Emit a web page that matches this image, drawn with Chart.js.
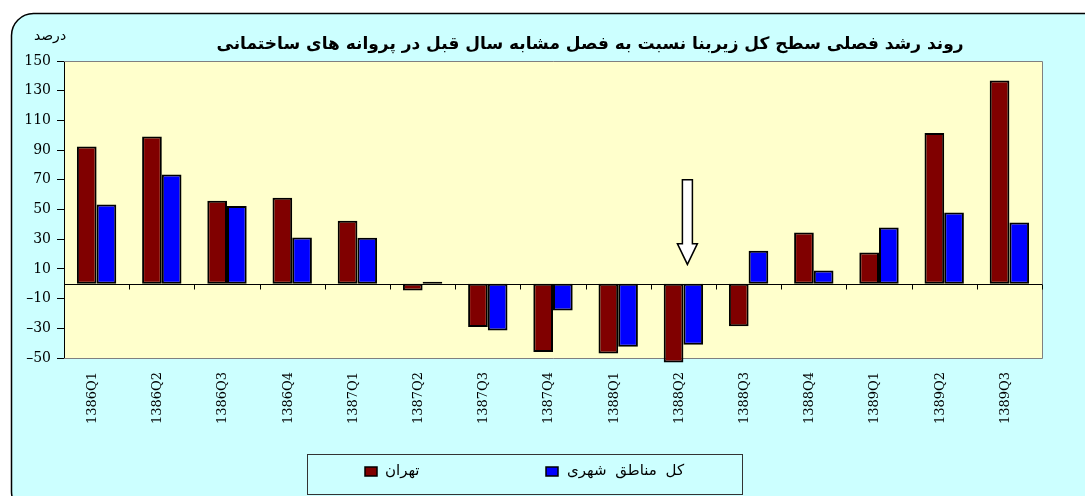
<!DOCTYPE html>
<html><head><meta charset="utf-8">
<script src="https://cdn.jsdelivr.net/npm/chart.js@4"></script>
<style>html,body{margin:0;padding:0;background:#fff;}canvas{display:block;}</style>
</head><body>
<canvas id="c" width="1085" height="496"></canvas>
<script>
// ---- data ----
const categories = ['1386Q1','1386Q2','1386Q3','1386Q4','1387Q1','1387Q2','1387Q3','1387Q4','1388Q1','1388Q2','1388Q3','1388Q4','1389Q1','1389Q2','1389Q3'];
const tehran = [92.5, 99.2, 55.9, 57.9, 42.4, -4.5, -29.2, -46, -47, -53, -28.7, 34.5, 21.1, 101.5, 136.9];
const urbanTotal = [53.4, 73.6, 52.3, 31.2, 31.0, 1.3, -31.4, -18, -42.4, -41, 22.2, 9.0, 37.9, 48.0, 41.3];
const yTicks = [-50, -30, -10, 10, 30, 50, 70, 90, 110, 130, 150];
const seriesNames = ['تهران', 'کل مناطق شهری'];
const chartTitle = 'روند رشد فصلی سطح کل زیربنا نسبت به فصل مشابه سال قبل در پروانه های ساختمانی';
const yUnit = 'درصد';
const arrowCategory = '1388Q2';
const arrowValues = [70, 27, 13]; // top of shaft, base of head, tip

const PERSIAN = '"DejaVu Sans", "Noto Sans", sans-serif';
const SERIF = '"DejaVu Serif", "Liberation Serif", serif';

const decor = {
  id: 'decor',
  beforeDraw(chart) {
    const ctx = chart.ctx, a = chart.chartArea;
    ctx.save();
    ctx.fillStyle = '#ffffff';
    ctx.fillRect(0, 0, chart.width, chart.height);
    const x = 11.5, y = 13.5, w = 1100, h = 500, r = 22;
    ctx.beginPath();
    ctx.moveTo(x + r, y);
    ctx.lineTo(x + w - r, y);
    ctx.arcTo(x + w, y, x + w, y + r, r);
    ctx.lineTo(x + w, y + h - r);
    ctx.arcTo(x + w, y + h, x + w - r, y + h, r);
    ctx.lineTo(x + r, y + h);
    ctx.arcTo(x, y + h, x, y + h - r, r);
    ctx.lineTo(x, y + r);
    ctx.arcTo(x, y, x + r, y, r);
    ctx.closePath();
    ctx.fillStyle = '#CCFFFF';
    ctx.fill();
    ctx.lineWidth = 1.5;
    ctx.strokeStyle = '#000';
    ctx.stroke();
    ctx.fillStyle = '#FFFFCC';
    ctx.fillRect(a.left, a.top, a.right - a.left, a.bottom - a.top);
    ctx.restore();
  },
  beforeDatasetsDraw(chart) {
    const ctx = chart.ctx, a = chart.chartArea;
    const ys = chart.scales.y;
    ctx.save();
    ctx.strokeStyle = '#808080';
    ctx.lineWidth = 1;
    ctx.beginPath();
    ctx.moveTo(a.left, a.top + 0.5);
    ctx.lineTo(a.right + 0.5, a.top + 0.5);
    ctx.lineTo(a.right + 0.5, a.bottom + 0.5);
    ctx.lineTo(a.left, a.bottom + 0.5);
    ctx.stroke();
    const y0 = Math.round(ys.getPixelForValue(0)) + 0.5;
    ctx.strokeStyle = '#000';
    ctx.beginPath();
    ctx.moveTo(a.left, y0);
    ctx.lineTo(a.right, y0);
    const n = categories.length;
    for (let i = 0; i <= n; i++) {
      const px = Math.round(a.left + (a.right - a.left) * i / n) + 0.5;
      ctx.moveTo(px, y0);
      ctx.lineTo(px, y0 + 5);
    }
    ctx.stroke();
    ctx.restore();
  },
  afterDraw(chart) {
    const ctx = chart.ctx;
    const xs = chart.scales.x, ys = chart.scales.y;
    ctx.save();
    ctx.fillStyle = '#000';
    ctx.font = 'bold 17px ' + PERSIAN;
    ctx.textAlign = 'center';
    ctx.textBaseline = 'middle';
    ctx.direction = 'rtl';
    ctx.fillText(chartTitle, 590, 45);
    ctx.font = '14px ' + PERSIAN;
    ctx.fillText(yUnit, 50, 36);
    // legend
    ctx.direction = 'ltr';
    ctx.strokeStyle = '#333';
    ctx.lineWidth = 1;
    ctx.strokeRect(307.5, 454.5, 435, 40);
    const items = [[365, 385], [546, 567]];
    chart.data.datasets.forEach((ds, i) => {
      const [bx, tx] = items[i];
      ctx.fillStyle = ds.backgroundColor;
      ctx.fillRect(bx, 467, 12, 9);
      ctx.lineWidth = 1.5;
      ctx.strokeStyle = '#000';
      ctx.strokeRect(bx, 467, 12, 9);
      ctx.fillStyle = '#000';
      ctx.font = '15px ' + PERSIAN;
      ctx.wordSpacing = '4px';
      ctx.textAlign = 'left';
      ctx.textBaseline = 'middle';
      ctx.fillText(ds.label, tx, 471);
    });
    // arrow
    const cx = xs.getPixelForValue(categories.indexOf(arrowCategory)) + 4;
    const yT = ys.getPixelForValue(arrowValues[0]);
    const yH = ys.getPixelForValue(arrowValues[1]);
    const yP = ys.getPixelForValue(arrowValues[2]);
    ctx.beginPath();
    ctx.moveTo(cx - 5, yT);
    ctx.lineTo(cx + 5, yT);
    ctx.lineTo(cx + 5, yH);
    ctx.lineTo(cx + 10, yH);
    ctx.lineTo(cx, yP);
    ctx.lineTo(cx - 10, yH);
    ctx.lineTo(cx - 5, yH);
    ctx.closePath();
    ctx.fillStyle = '#fff';
    ctx.fill();
    ctx.lineWidth = 1.5;
    ctx.strokeStyle = '#000';
    ctx.stroke();
    ctx.restore();
  }
};

new Chart(document.getElementById('c'), {
  type: 'bar',
  data: {
    labels: categories,
    datasets: [
      { label: seriesNames[0], data: tehran, backgroundColor: '#800000', borderColor: '#000', borderWidth: 2, borderSkipped: false, clip: false },
      { label: seriesNames[1], data: urbanTotal, backgroundColor: '#0000FF', borderColor: '#000', borderWidth: 2, borderSkipped: false, clip: false }
    ]
  },
  options: {
    responsive: false,
    animation: false,
    devicePixelRatio: 1,
    layout: { padding: { left: 0, right: 43, top: 61, bottom: 0 } },
    datasets: { bar: { categoryPercentage: 0.604, barPercentage: 1.0 } },
    plugins: { legend: { display: false }, title: { display: false }, tooltip: { enabled: false } },
    scales: {
      x: {
        grid: { display: false, drawTicks: false },
        border: { display: false },
        ticks: { color: '#000', font: { family: SERIF, size: 13 }, minRotation: 90, maxRotation: 90, padding: 14, labelOffset: -4, autoSkip: false },
        afterFit(s) { s.height = 138; }
      },
      y: {
        min: -50, max: 150,
        afterBuildTicks(s) { s.ticks = yTicks.map(v => ({ value: v })); },
        grid: { drawOnChartArea: false, drawTicks: true, tickLength: 7, color: '#000', lineWidth: 1 },
        border: { display: true, color: '#000', width: 1 },
        ticks: { color: '#000', font: { family: SERIF, size: 14 }, padding: 6,
          callback: v => v < 0 ? '–' + Math.abs(v) : String(v) },
        afterFit(s) { s.width = 64; }
      }
    }
  },
  plugins: [decor]
});
</script>
</body></html>
